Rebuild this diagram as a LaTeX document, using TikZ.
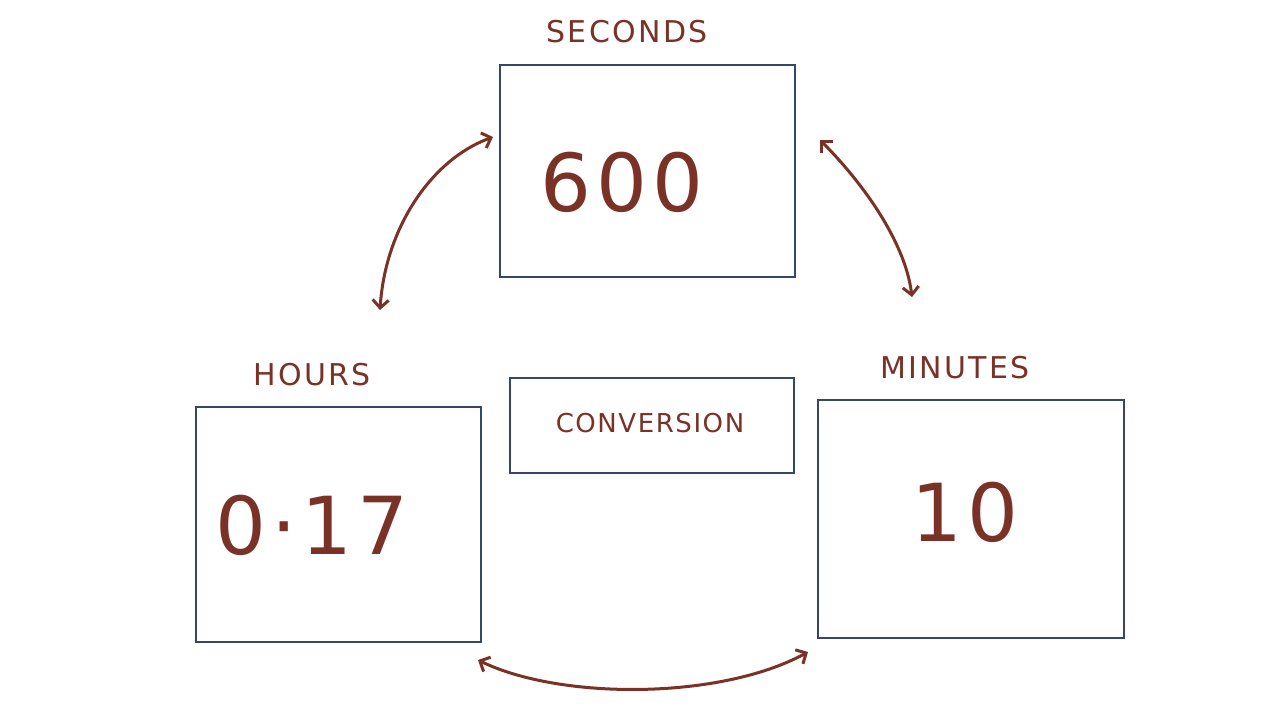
\documentclass[tikz,border=0pt]{standalone}
\usepackage{fontspec}
\setmainfont{DejaVu Sans}
\usetikzlibrary{arrows.meta}
\definecolor{boxc}{HTML}{34466A}
\definecolor{ink}{HTML}{7A3226}
\tikzset{
 bx/.style={draw=boxc,line width=2.6pt},
 lbl/.style={text=ink,font=\fontsize{30}{30}\selectfont\addfontfeature{LetterSpace=8}},
 num/.style={text=ink,font=\fontsize{80}{80}\selectfont\addfontfeature{LetterSpace=6}},
 arr/.style={draw=ink,line width=3pt,{Straight Barb[length=8pt,width=16pt]}-{Straight Barb[length=8pt,width=16pt]}}
}
\begin{document}
\begin{tikzpicture}[x=1pt,y=-1pt]
\useasboundingbox[fill=white] (0,0) rectangle (1280,720);
\draw[bx] (500,65) rectangle (795,277);
\draw[bx] (196,407) rectangle (481,642);
\draw[bx] (818,400) rectangle (1124,638);
\draw[bx] (510,378) rectangle (794,473);
\node[lbl] (ls) at (627,32) {SECONDS};
\node[lbl] (lh) at (312,375) {HOURS};
\node[lbl] (lm) at (955,368) {MINUTES};
\node[lbl,font=\fontsize{26}{26}\selectfont\addfontfeature{LetterSpace=6}] (lc) at (650,423) {CONVERSION};
\node[num] (ns) at (622,182) {600};
\node[num] (nh) at (312,525) {0·17};
\node[num] (nm) at (965,512) {10};
\coordinate (a1) at (380,310); \coordinate (a2) at (493,137);
\coordinate (b1) at (820,140); \coordinate (b2) at (912,297);
\coordinate (c1) at (478,660); \coordinate (c2) at (808,652);
\draw[arr] (a1) .. controls (385,230) and (430,160) .. (a2);
\draw[arr] (b1) .. controls (860,180) and (905,240) .. (b2);
\draw[arr] (c1) .. controls (560,700) and (720,700) .. (c2);
\end{tikzpicture}
\end{document}
